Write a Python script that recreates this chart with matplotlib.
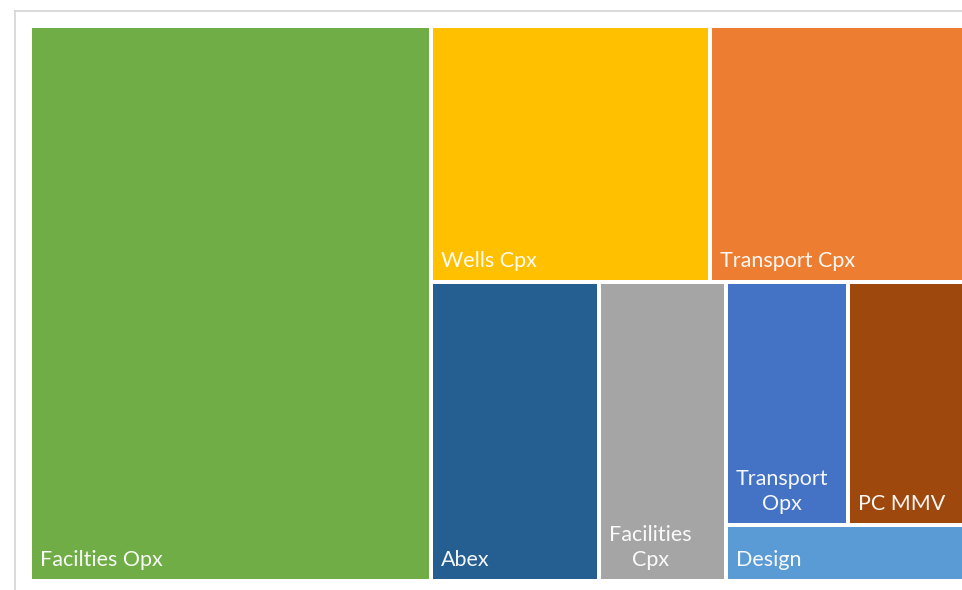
import matplotlib
matplotlib.use("Agg")
import matplotlib.pyplot as plt
from matplotlib.patches import Rectangle

# Cost categories and their shares
categories = ["Facilties Opx", "Wells Cpx", "Transport Cpx", "Abex",
              "Facilities Cpx", "Transport Opx", "PC MMV", "Design"]
values = [42.8, 13.8, 12.6, 9.7, 7.3, 5.7, 5.5, 2.6]
labels = ["Facilties Opx", "Wells Cpx", "Transport Cpx", "Abex",
          "Facilities\nCpx", "Transport\nOpx", "PC MMV", "Design"]
colors = ["#70AD47", "#FFC000", "#ED7D31", "#255E91",
          "#A5A5A5", "#4472C4", "#9E480E", "#5B9BD5"]

# Grouping of the tiles (slice-and-dice, alternating direction by depth)
tree = [0, [[1, 2], [3, 4, [[5, 6], 7]]]]


def total(node):
    if isinstance(node, int):
        return values[node]
    return sum(total(c) for c in node)


rects = {}


def layout(node, x, y, w, h, depth):
    if isinstance(node, int):
        rects[node] = (x, y, w, h)
        return
    s = total(node)
    horizontal = depth % 2 == 0
    for child in node:
        frac = total(child) / s
        if horizontal:
            cw = w * frac
            layout(child, x, y, cw, h, depth + 1)
            x += cw
        else:
            ch = h * frac
            layout(child, x, y, w, ch, depth + 1)
            y += ch


W_PX, H_PX = 962, 590
fig = plt.figure(figsize=((W_PX + 0.01) / 100, (H_PX + 0.01) / 100), dpi=100)
ax = fig.add_axes([0, 0, 1, 1])
ax.set_xlim(0, W_PX)
ax.set_ylim(H_PX, 0)
ax.axis("off")

# Chart frame
ax.plot([15, 15], [11, H_PX + 5], color="#d4d4d4", lw=1.2)
ax.plot([15, W_PX + 5], [11, 11], color="#d4d4d4", lw=1.2)

# Plot area of the treemap
X0, Y0, PW, PH = 30, 26, 936, 555
GAP = 2
layout(tree, X0, Y0, PW, PH, 0)

for i, (x, y, w, h) in rects.items():
    ax.add_patch(Rectangle((x + GAP, y + GAP), w - 2 * GAP, h - 2 * GAP,
                           facecolor=colors[i], edgecolor="none",
                           clip_on=False))
    ax.text(x + GAP + 8, y + h - GAP - 9, labels[i], color="white",
            fontsize=15.5, family=["Lato", "DejaVu Sans"],
            ha="left", va="bottom", multialignment="center",
            linespacing=1.3, alpha=0.95)

fig.savefig("out.png", dpi=100)
